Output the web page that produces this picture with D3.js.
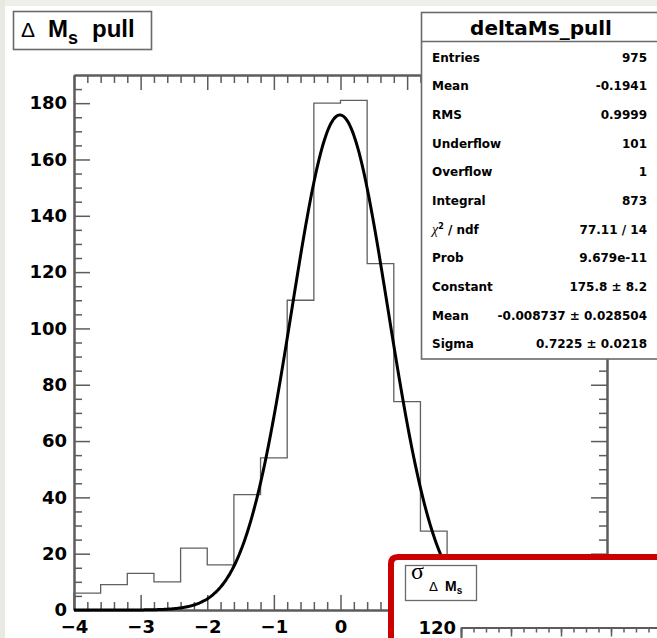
<!DOCTYPE html>
<html>
<head>
<meta charset="utf-8">
<script src="https://cdn.jsdelivr.net/npm/d3@7"></script>
<style>
body { margin: 0; background: #fff; }
svg { display: block; }
text { font-family: "DejaVu Sans", sans-serif; }
</style>
</head>
<body>
<div id="vis"></div>
<script>
// histogram data (bin lower edges, width 0.4)
let binLow = [-4, -3.6, -3.2, -2.8, -2.4, -2.0, -1.6, -1.2, -0.8, -0.4,
              0, 0.4, 0.8, 1.2, 1.6, 2.0, 2.4, 2.8, 3.2, 3.6]
let counts = [6, 9, 13, 10, 22, 16, 41, 54, 110, 180,
              181, 123, 74, 28, 4, 1, 1, 0, 0, 0]
let binWidth = 0.4

// gaussian fit parameters
let fitConstant = 175.8
let fitMean = -0.008737
let fitSigma = 0.7225

// axis ticks
let xTickLabels = [-4, -3, -2, -1, 0, 1, 2, 3, 4]
let yTickLabels = [0, 20, 40, 60, 80, 100, 120, 140, 160, 180]

// stats box
let statTitle = "deltaMs_pull"
let statLabels = ["Entries", "Mean", "RMS", "Underflow", "Overflow", "Integral",
                  "chi2", "Prob", "Constant", "Mean", "Sigma"]
let statValues = ["975", "-0.1941", "0.9999", "101", "1", "873",
                  "77.11 / 14", "9.679e-11", "175.8 \u00b1 8.2",
                  "-0.008737 \u00b1 0.028504", "0.7225 \u00b1 0.0218"]

let svgWidth = 657
let svgHeight = 638
let margin = {left: 74, right: 50, top: 75, bottom: 28}
let axisColor = "#5c5c5c"

let svg = d3.select('#vis')
    .append('svg')
    .attr('width', svgWidth)
    .attr('height', svgHeight)

// window edge strips
svg.append("rect").attr("x", 0).attr("y", 0).attr("width", svgWidth).attr("height", 6).attr("fill", "#efefea")
svg.append("rect").attr("x", 0).attr("y", 0).attr("width", 5).attr("height", svgHeight).attr("fill", "#e9e9e3")

let xScale = d3.scaleLinear()
    .domain([-4, 4])
    .range([margin.left, svgWidth - margin.right])

let yScale = d3.scaleLinear()
    .domain([0, 190])
    .range([svgHeight - margin.bottom, margin.top])

let x0 = xScale.range()[0], x1 = xScale.range()[1]
let y0 = yScale.range()[0], y1 = yScale.range()[1]

// minor ticks
let xMinor = d3.range(-4, 4.001, 0.2).filter(v => Math.abs(v - Math.round(v)) > 1e-6)
let yMinor = d3.range(0, 190, 5).filter(v => v % 20 != 0)

function styleAxis(g) {
    g.select(".domain").attr("stroke", axisColor).attr("stroke-width", 2)
    g.selectAll(".tick line").attr("stroke", axisColor).attr("stroke-width", 1.5)
    g.selectAll("text").attr("fill", "#000").attr("font-size", 18).attr("font-weight", "bold")
}

// bottom axis
svg.append("g")
    .attr("transform", `translate(0,${y0})`)
    .call(d3.axisBottom(xScale).tickValues(xMinor).tickSize(-8).tickSizeOuter(0).tickFormat(""))
    .call(styleAxis)
svg.append("g")
    .attr("transform", `translate(0,${y0})`)
    .call(d3.axisBottom(xScale).tickValues(xTickLabels).tickSize(-15).tickSizeOuter(0).tickPadding(10).tickFormat(d3.format("d")))
    .call(styleAxis)

// top axis (mirror)
svg.append("g")
    .attr("transform", `translate(0,${y1})`)
    .call(d3.axisTop(xScale).tickValues(xMinor).tickSize(-8).tickSizeOuter(0).tickFormat(""))
    .call(styleAxis)
svg.append("g")
    .attr("transform", `translate(0,${y1})`)
    .call(d3.axisTop(xScale).tickValues(xTickLabels).tickSize(-15).tickSizeOuter(0).tickFormat(""))
    .call(styleAxis)

// left axis
svg.append("g")
    .attr("transform", `translate(${x0},0)`)
    .call(d3.axisLeft(yScale).tickValues(yMinor).tickSize(-8).tickSizeOuter(0).tickFormat(""))
    .call(styleAxis)
svg.append("g")
    .attr("transform", `translate(${x0},0)`)
    .call(d3.axisLeft(yScale).tickValues(yTickLabels).tickSize(-16).tickSizeOuter(0).tickPadding(7))
    .call(styleAxis)

// right axis (mirror)
svg.append("g")
    .attr("transform", `translate(${x1},0)`)
    .call(d3.axisRight(yScale).tickValues(yMinor).tickSize(-8).tickSizeOuter(0).tickFormat(""))
    .call(styleAxis)
svg.append("g")
    .attr("transform", `translate(${x1},0)`)
    .call(d3.axisRight(yScale).tickValues(yTickLabels).tickSize(-16).tickSizeOuter(0).tickFormat(""))
    .call(styleAxis)

// histogram outline
let histPts = [[binLow[0], 0]]
binLow.forEach((b, i) => histPts.push([b, counts[i]]))
histPts.push([binLow[binLow.length - 1] + binWidth, counts[counts.length - 1]])
histPts.push([binLow[binLow.length - 1] + binWidth, 0])

svg.append("path")
    .datum(histPts)
    .attr("fill", "none")
    .attr("stroke", "#606060")
    .attr("stroke-width", 1.3)
    .attr("d", d3.line()
        .x(d => xScale(d[0]))
        .y(d => yScale(d[1]))
        .curve(d3.curveStepAfter))

// gaussian fit curve
let gaus = x => fitConstant * Math.exp(-0.5 * Math.pow((x - fitMean) / fitSigma, 2))
let fitPts = d3.range(-4, 4.0001, 0.02).map(x => [x, gaus(x)])
svg.append("path")
    .datum(fitPts)
    .attr("fill", "none")
    .attr("stroke", "#000")
    .attr("stroke-width", 3)
    .attr("d", d3.line()
        .x(d => xScale(d[0]))
        .y(d => yScale(d[1]))
        .curve(d3.curveMonotoneX))

// title box
let tg = svg.append("g")
tg.append("rect")
    .attr("x", 13.5).attr("y", 11.5).attr("width", 138).attr("height", 38)
    .attr("fill", "#fff").attr("stroke", "#6a6a6a").attr("stroke-width", 1.6)
let tt = tg.append("text")
    .attr("x", 21).attr("y", 37)
    .style("font-family", "'Liberation Sans', Arial, sans-serif")
    .attr("font-size", 24)
tt.append("tspan").attr("font-size", 21).text("\u0394")
tt.append("tspan").attr("x", 48).attr("font-weight", "bold").text("M")
tt.append("tspan").attr("x", 68).attr("dy", 7).attr("font-size", 18).attr("font-weight", "bold").text("s")
tt.append("tspan").attr("x", 92).attr("dy", -7).attr("font-weight", "bold").text("pull")

// stats box
let sb = {x: 421.5, y: 12.5, w: 250, h: 346.5}
let sg = svg.append("g")
sg.append("rect")
    .attr("x", sb.x).attr("y", sb.y).attr("width", sb.w).attr("height", sb.h)
    .attr("fill", "#fff").attr("stroke", "#6a6a6a").attr("stroke-width", 1.6)
sg.append("line")
    .attr("x1", sb.x).attr("x2", sb.x + sb.w).attr("y1", 41.5).attr("y2", 41.5)
    .attr("stroke", "#6a6a6a").attr("stroke-width", 1.6)
sg.append("text")
    .attr("x", 541).attr("y", 35)
    .attr("text-anchor", "middle")
    .attr("font-size", 20).attr("font-weight", "bold")
    .text(statTitle)

let rowY = d3.scaleLinear().domain([0, statLabels.length - 1]).range([61.7, 348.3])
statLabels.forEach((lab, i) => {
    let t = sg.append("text")
        .attr("x", 432).attr("y", rowY(i))
        .attr("font-size", 12).attr("font-weight", "bold")
    if (lab == "chi2") {
        t.append("tspan").attr("font-weight", "normal").attr("font-style", "italic")
            .style("font-family", "'Liberation Serif', serif").attr("font-size", 14).text("\u03c7")
        t.append("tspan").attr("dy", -5).attr("font-size", 8).text("2")
        t.append("tspan").attr("dy", 5).text(" / ndf")
    } else {
        t.text(lab)
    }
    sg.append("text")
        .attr("x", 647).attr("y", rowY(i))
        .attr("text-anchor", "end")
        .attr("font-size", 12).attr("font-weight", "bold")
        .text(statValues[i])
})

// lower pad (red framed)
let pg = svg.append("g")
let px = 391, py = 557, pr = 7
pg.append("rect")
    .attr("x", px).attr("y", py).attr("width", svgWidth - px + 10).attr("height", svgHeight - py + 10)
    .attr("fill", "#fff")
pg.append("path")
    .attr("d", `M${px},${svgHeight + 10} V${py + pr} Q${px},${py} ${px + pr},${py} H${svgWidth + 10}`)
    .attr("fill", "none")
    .attr("stroke", "#cc0000")
    .attr("stroke-width", 6)

pg.append("rect")
    .attr("x", 405.5).attr("y", 565.5).attr("width", 71).attr("height", 35)
    .attr("fill", "#fff").attr("stroke", "#6a6a6a").attr("stroke-width", 1.3)
let st = pg.append("text").attr("x", 411).attr("y", 579)
st.append("tspan").style("font-family", "'Liberation Serif', serif").attr("font-size", 24).text("\u03c3")
st.append("tspan").attr("x", 429).attr("y", 591).attr("font-size", 13).text("\u0394")
st.append("tspan").attr("x", 445).attr("font-size", 14).attr("font-weight", "bold")
    .style("font-family", "'Liberation Sans', sans-serif").text("M")
st.append("tspan").attr("dy", 3).attr("font-size", 10).attr("font-weight", "bold")
    .style("font-family", "'Liberation Sans', sans-serif").text("s")

// lower pad axes (only the top edge is in view)
let innerX = d3.scaleLinear().domain([0, 4]).range([461, 661])
let innerY = d3.scaleLinear().domain([0, 120]).range([1000, 627.5])
pg.append("g")
    .attr("transform", "translate(0,627.5)")
    .call(d3.axisTop(innerX).tickValues(d3.range(0, 4, 0.25)).tickSize(-5).tickSizeOuter(0).tickFormat(""))
    .call(styleAxis)
pg.append("g")
    .attr("transform", "translate(0,627.5)")
    .call(d3.axisTop(innerX).tickValues([0, 1, 2, 3]).tickSize(-9).tickSizeOuter(0).tickFormat(""))
    .call(styleAxis)
pg.append("g")
    .attr("transform", "translate(461,0)")
    .call(d3.axisLeft(innerY).tickValues([120]).tickSize(-13).tickSizeOuter(0).tickPadding(5))
    .call(styleAxis)
</script>
</body>
</html>
